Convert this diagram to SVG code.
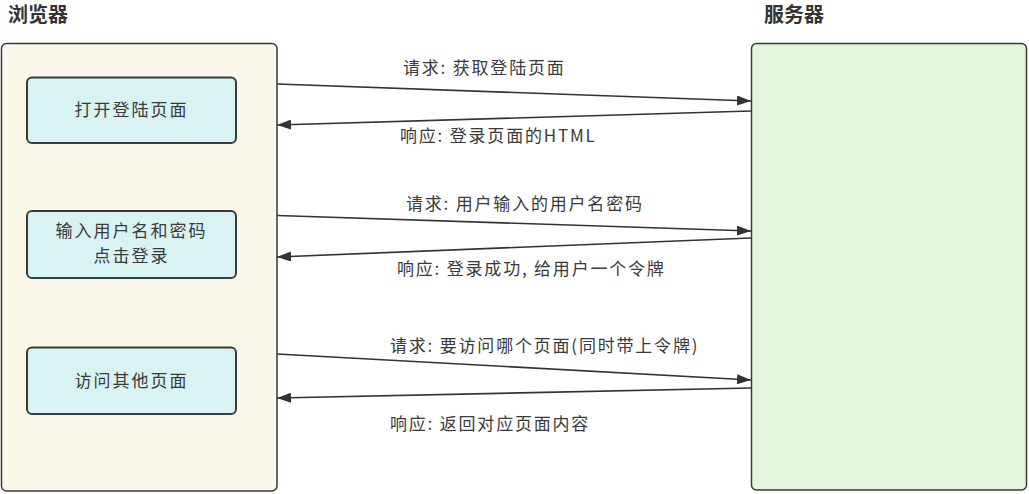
<svg xmlns="http://www.w3.org/2000/svg" width="1029" height="494" viewBox="0 0 1029 494">
<style>
text{font-family:"Noto Sans CJK SC","Noto Sans",sans-serif;fill:#3a3a3a}
.title{font-size:20px;font-weight:bold;fill:#333}
.box{font-size:17px;letter-spacing:2px}
.lbl{font-size:17px;letter-spacing:1.8px}
.big{fill:#fbf7eb;stroke:#3a3a3a;stroke-width:1.5}
.srv{fill:#e3f5db;stroke:#3a3a3a;stroke-width:1.5}
.inner{fill:#d9f2f3;stroke:#3a3a3a;stroke-width:2}
.edge{stroke:#333;stroke-width:1.6;fill:none;marker-end:url(#ah)}
</style>
<defs>
<marker id="ah" viewBox="0 0 14 10" refX="14" refY="5" markerWidth="14" markerHeight="10" markerUnits="userSpaceOnUse" orient="auto">
<path d="M0,0 L14,5 L0,10 Z" fill="#333"/>
</marker>
</defs>
<rect width="1029" height="494" fill="#ffffff"/>
<g id="browser">
<text class="title" x="8" y="22">浏览器</text>
<rect class="big" x="1.5" y="43.5" width="275.5" height="447.5" rx="5"/>
</g>
<g id="server">
<text class="title" x="764" y="22">服务器</text>
<rect class="srv" x="751.5" y="43.5" width="275" height="446.5" rx="5"/>
</g>
<g id="open-login">
<rect class="inner" x="27" y="77.5" width="209" height="65.5" rx="5"/>
<text class="box" x="131.5" y="116" text-anchor="middle">打开登陆页面</text>
</g>
<g id="input-login">
<rect class="inner" x="27" y="211" width="209" height="67" rx="5"/>
<text class="box" x="131.5" y="237" text-anchor="middle">输入用户名和密码</text>
<text class="box" x="131.5" y="262" text-anchor="middle">点击登录</text>
</g>
<g id="visit-other">
<rect class="inner" x="27" y="347.5" width="209" height="66.5" rx="5"/>
<text class="box" x="131.5" y="387" text-anchor="middle">访问其他页面</text>
</g>
<g id="connectors">
<line class="edge" x1="277" y1="84" x2="751" y2="101"/>
<line class="edge" x1="751" y1="111" x2="277" y2="125"/>
<line class="edge" x1="277" y1="215.5" x2="751" y2="231"/>
<line class="edge" x1="751" y1="238" x2="277" y2="257"/>
<line class="edge" x1="277" y1="354" x2="751" y2="380"/>
<line class="edge" x1="751" y1="388" x2="277" y2="398"/>
<text class="lbl" x="403" y="74">请求: 获取登陆页面</text>
<text class="lbl" x="400" y="142">响应: 登录页面的HTML</text>
<text class="lbl" x="406" y="210">请求: 用户输入的用户名密码</text>
<text class="lbl" x="397" y="275">响应: 登录成功, 给用户一个令牌</text>
<text class="lbl" x="390" y="352">请求: 要访问哪个页面(同时带上令牌)</text>
<text class="lbl" x="390" y="430">响应: 返回对应页面内容</text>
</g>
</svg>
